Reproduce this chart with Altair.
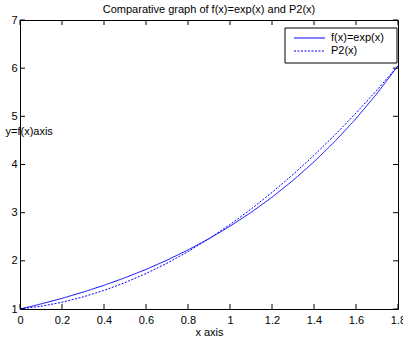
import altair as alt
import pandas as pd

# values
x_vals = [0.0, 0.1, 0.2, 0.3, 0.4, 0.5, 0.6, 0.7, 0.8, 0.9,
          1.0, 1.1, 1.2, 1.3, 1.4, 1.5, 1.6, 1.7, 1.8]
fx_vals = [1.000, 1.105, 1.221, 1.350, 1.492, 1.649, 1.822, 2.014, 2.226, 2.460,
           2.718, 3.004, 3.320, 3.669, 4.055, 4.482, 4.953, 5.474, 6.050]
p2_vals = [1.000, 1.057, 1.140, 1.250, 1.386, 1.548, 1.736, 1.951, 2.192, 2.460,
           2.753, 3.073, 3.420, 3.792, 4.191, 4.616, 5.068, 5.546, 6.050]
series_names = ["f(x)=exp(x)", "P2(x)"]
x_ticks = [0, 0.2, 0.4, 0.6, 0.8, 1.0, 1.2, 1.4, 1.6, 1.8]
y_ticks = [1, 2, 3, 4, 5, 6, 7]

W, H = 378, 289
FONT = "Liberation Sans"
BLUE = "#0000ff"

df = pd.DataFrame({
    "x": x_vals * 2,
    "y": fx_vals + p2_vals,
    "series": [series_names[0]] * len(x_vals) + [series_names[1]] * len(x_vals),
})
xt = pd.DataFrame({"t": x_ticks})
yt = pd.DataFrame({"t": y_ticks})

xscale = alt.Scale(domain=[0, 1.8], nice=False, zero=False)
yscale = alt.Scale(domain=[1, 7], nice=False, zero=False)

lines = alt.Chart(df).mark_line(strokeWidth=1, color=BLUE).encode(
    x=alt.X("x:Q", scale=xscale,
            axis=alt.Axis(values=x_ticks, format="~g", ticks=False, domain=False, grid=False,
                          labelFontSize=11, labelFont=FONT, labelColor="black", labelPadding=5,
                          title="x axis", titleFont=FONT, titleFontSize=11, titleFontWeight="normal",
                          titlePadding=1, titleColor="black", labelFlush=False)),
    y=alt.Y("y:Q", scale=yscale,
            axis=alt.Axis(values=y_ticks, format="d", ticks=False, domain=False, grid=False,
                          labelFontSize=11, labelFont=FONT, labelColor="black", labelPadding=3,
                          title="y=f(x)axis", titleFont=FONT, titleFontSize=11,
                          titleFontWeight="normal", titleColor="black", titleAngle=0,
                          titleAlign="left", titleBaseline="middle", titleX=-15, titleY=111,
                          labelFlush=False)),
    strokeDash=alt.StrokeDash("series:N", scale=alt.Scale(domain=series_names,
                                                          range=[[1, 0], [2, 1.5]]), legend=None),
)

tick_bottom = alt.Chart(xt).mark_rule(color="black", strokeWidth=1).encode(
    x=alt.X("t:Q", scale=xscale), y=alt.value(H), y2=alt.value(H - 5))
tick_top = alt.Chart(xt).mark_rule(color="black", strokeWidth=1).encode(
    x=alt.X("t:Q", scale=xscale), y=alt.value(0), y2=alt.value(5))
tick_left = alt.Chart(yt).mark_rule(color="black", strokeWidth=1).encode(
    y=alt.Y("t:Q", scale=yscale), x=alt.value(0), x2=alt.value(5))
tick_right = alt.Chart(yt).mark_rule(color="black", strokeWidth=1).encode(
    y=alt.Y("t:Q", scale=yscale), x=alt.value(W), x2=alt.value(W - 5))

leg_df = pd.DataFrame({"series": series_names})
box = alt.Chart(leg_df.head(1)).mark_rect(fill="white", stroke="black", strokeWidth=1).encode(
    x=alt.value(265), x2=alt.value(377), y=alt.value(8), y2=alt.value(43))
leg_line1 = alt.Chart(leg_df.head(1)).mark_rule(color=BLUE, strokeWidth=1).encode(
    x=alt.value(274), x2=alt.value(305), y=alt.value(18))
leg_line2 = alt.Chart(leg_df.head(1)).mark_rule(color=BLUE, strokeWidth=1, strokeDash=[2, 1.5]).encode(
    x=alt.value(274), x2=alt.value(305), y=alt.value(31))
leg_text1 = alt.Chart(leg_df.head(1)).mark_text(
    align="left", baseline="middle", font=FONT, fontSize=11, color="black").encode(
    text="series:N", x=alt.value(311), y=alt.value(18))
leg_text2 = alt.Chart(leg_df.tail(1)).mark_text(
    align="left", baseline="middle", font=FONT, fontSize=11, color="black").encode(
    text="series:N", x=alt.value(311), y=alt.value(31))

chart = alt.layer(
    lines, tick_bottom, tick_top, tick_left, tick_right,
    box, leg_line1, leg_line2, leg_text1, leg_text2
).properties(
    width=W, height=H,
    title=alt.TitleParams("Comparative graph of f(x)=exp(x) and P2(x)", font=FONT, fontSize=11,
                          fontWeight="normal", color="black", offset=-1, anchor="middle"),
    autosize=alt.AutoSizeParams(type="none"),
    padding={"left": 20, "top": 20, "right": 5, "bottom": 31},
).configure_view(stroke="black", strokeWidth=1)

chart.save("out.html", embed_options={"renderer": "svg", "actions": False})
